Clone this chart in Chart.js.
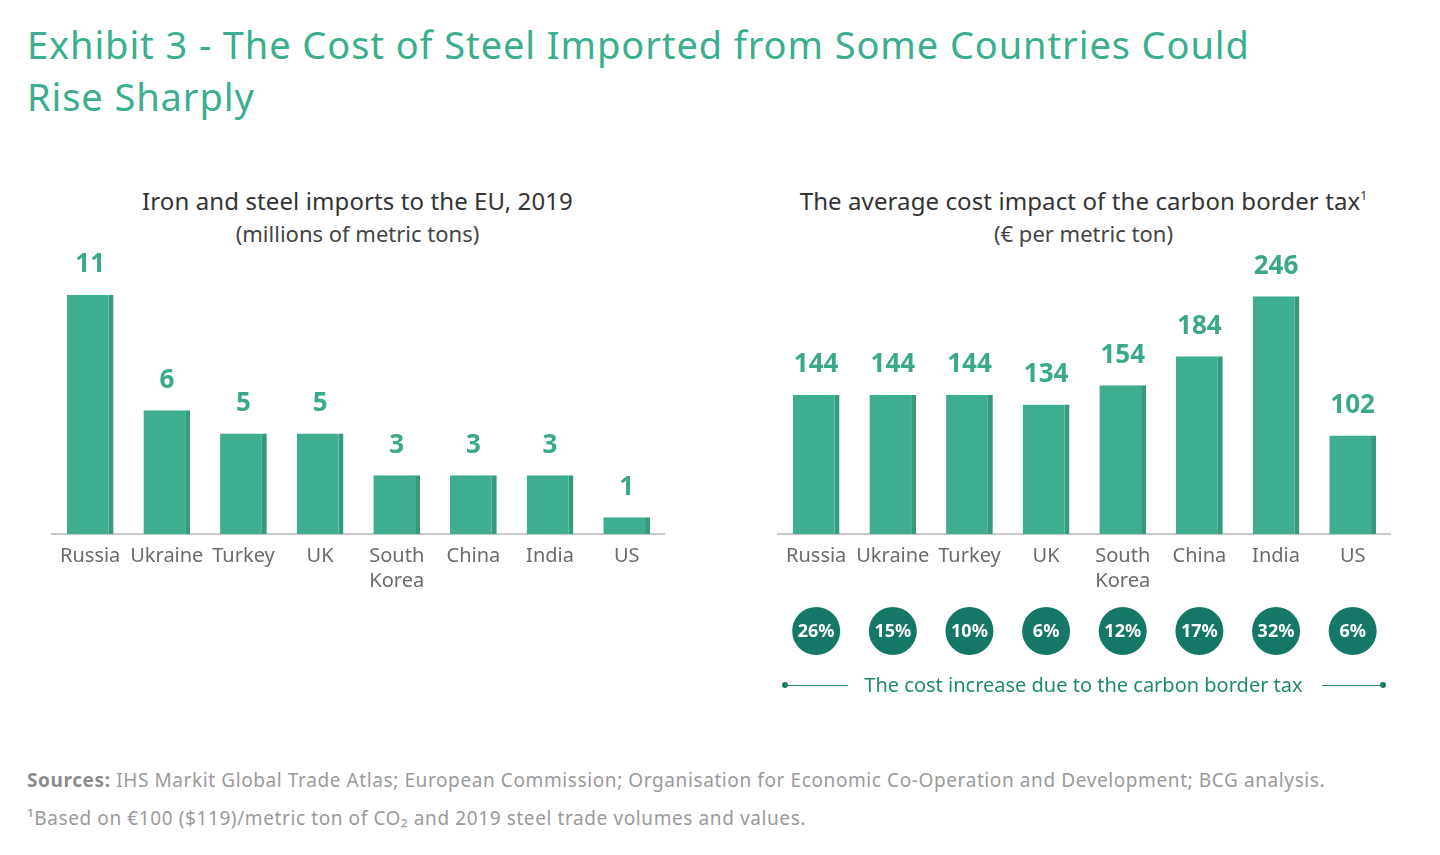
<!DOCTYPE html>
<html><head><meta charset="utf-8">
<script src="https://cdn.jsdelivr.net/npm/chart.js@4/dist/chart.umd.min.js"></script>
<style>
body{margin:0;width:1440px;height:855px;background:#fff;font-family:"Noto Sans",sans-serif;position:relative;overflow:hidden}
.abs{position:absolute;white-space:nowrap}
#title{left:27px;top:18px;font-size:38px;line-height:52px;color:#3aae8e;letter-spacing:0.9px}
.ctitle{font-size:24px;line-height:30px;color:#333;text-align:center;width:615px;letter-spacing:0.1px}
.csub{font-size:22px;line-height:30px;color:#444;text-align:center;width:615px}
.foot{left:27px;font-size:19px;line-height:30px;color:#9a9a9a;letter-spacing:0.6px}
.foot b{color:#8c8c8c}
canvas{position:absolute}
#legtext{left:776px;width:615px;top:670px;text-align:center;font-size:20px;line-height:30px;color:#1f8a70}
.lline{position:absolute;height:0;border-top:1.5px solid #2a8a74;top:685px}
.ldot{position:absolute;width:6px;height:6px;border-radius:50%;background:#1f7a66;top:682px}
sup{font-size:12px;line-height:0;vertical-align:0;position:relative;top:-10px}
</style></head>
<body>
<div id="title" class="abs">Exhibit 3 - The Cost of Steel Imported from Some Countries Could<br>Rise Sharply</div>
<div class="abs ctitle" style="left:50px;top:186px">Iron and steel imports to the EU, 2019</div>
<div class="abs csub" style="left:50px;top:218px">(millions of metric tons)</div>
<div class="abs ctitle" style="left:776px;top:186px">The average cost impact of the carbon border tax<sup>1</sup></div>
<div class="abs csub" style="left:776px;top:218px">(€ per metric ton)</div>
<canvas id="c1" width="615" height="364" style="left:50px;top:240px"></canvas>
<canvas id="c2" width="615" height="480" style="left:776px;top:240px"></canvas>
<div class="ldot" style="left:782px"></div>
<div class="lline" style="left:785px;width:63px"></div>
<div id="legtext" class="abs">The cost increase due to the carbon border tax</div>
<div class="lline" style="left:1322px;width:61px"></div>
<div class="ldot" style="left:1380px"></div>
<div class="abs foot" style="top:765px"><b>Sources:</b> IHS Markit Global Trade Atlas; European Commission; Organisation for Economic Co-Operation and Development; BCG analysis.</div>
<div class="abs foot" style="top:803px">¹Based on €100 ($119)/metric ton of CO₂ and 2019 steel trade volumes and values.</div>
<script>
const categories = ["Russia","Ukraine","Turkey","UK","South Korea","China","India","US"];
const importsMt = [11.4, 5.9, 4.8, 4.8, 2.8, 2.8, 2.8, 0.8];
const importsLabels = ["11","6","5","5","3","3","3","1"];
const costPerTon = [144, 144, 144, 134, 154, 184, 246, 102];
const costLabels = ["144","144","144","134","154","184","246","102"];
const costIncreasePct = ["26%","15%","10%","6%","12%","17%","32%","6%"];

const BAR = '#3fad8f', BAR_EDGE = '#379a7f', LABEL = '#3aa88a', CIRCLE = '#157866';

function valueLabels(labels){
  return {id:'vl', afterDatasetsDraw(chart){
    const ctx = chart.ctx; ctx.save();
    ctx.font = 'bold 26px "Noto Sans"'; ctx.fillStyle = LABEL;
    ctx.textAlign = 'center'; ctx.textBaseline = 'middle';
    chart.getDatasetMeta(0).data.forEach((b,i)=>{ ctx.fillText(labels[i], b.x, b.y - 30); });
    ctx.restore();
  }};
}
function circles(texts, cy){
  return {id:'circ', afterDraw(chart){
    const ctx = chart.ctx, xs = chart.scales.x; ctx.save();
    texts.forEach((t,i)=>{
      const x = xs.getPixelForValue(i);
      ctx.beginPath(); ctx.arc(x, cy, 24, 0, Math.PI*2); ctx.fillStyle = CIRCLE; ctx.fill();
      ctx.fillStyle = '#fff'; ctx.font = 'bold 18px "Noto Sans"';
      ctx.textAlign = 'center'; ctx.textBaseline = 'middle';
      ctx.fillText(t, x, cy + 1);
    });
    ctx.restore();
  }};
}
function makeChart(id, values, labels, ymax, padBottom, extra){
  return new Chart(document.getElementById(id), {
    type:'bar',
    data:{labels:categories, datasets:[{data:values, backgroundColor:BAR, borderColor:BAR_EDGE,
      borderWidth:{top:0,right:5,bottom:0,left:0}, borderSkipped:false,
      categoryPercentage:1, barPercentage:0.61}]},
    options:{responsive:false, animation:false, devicePixelRatio:1,
      layout:{padding:{top:10,bottom:padBottom,left:0,right:0}},
      plugins:{legend:{display:false}, tooltip:{enabled:false}},
      scales:{
        y:{display:false, min:0, max:ymax},
        x:{grid:{display:false, drawTicks:false}, border:{display:true, color:'#c9c9c9', width:2},
          ticks:{padding:10, color:'#6b6b6b', font:{family:'"Noto Sans"', size:20, lineHeight:1.25},
            maxRotation:0, autoSkip:false,
            callback:function(v){ const l = this.getLabelForValue(v); return l.includes(' ') ? l.split(' ') : l; }}}
      }},
    plugins: extra ? [valueLabels(labels), extra] : [valueLabels(labels)]
  });
}
makeChart('c1', importsMt, importsLabels, 13.55, 0);
makeChart('c2', costPerTon, costLabels, 294, 116, circles(costIncreasePct, 391));
</script>
</body></html>
